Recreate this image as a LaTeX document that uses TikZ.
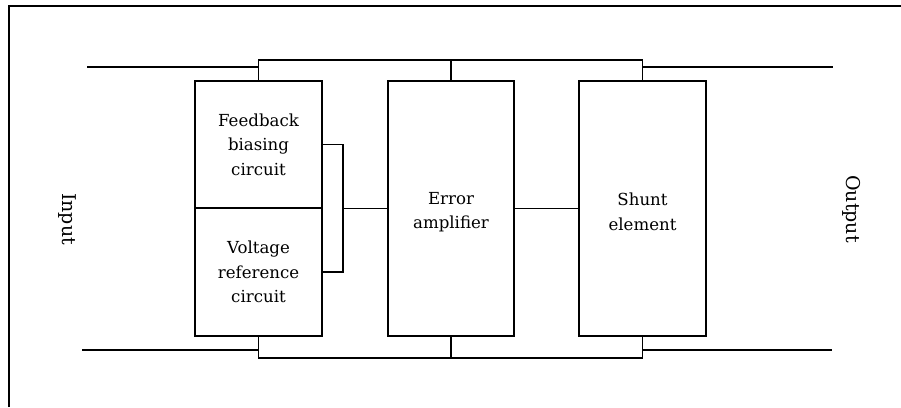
\documentclass[tikz,border=0pt]{standalone}
\usepackage{fontspec}
\setmainfont{DejaVu Serif}
\begin{document}
\begin{tikzpicture}[x=1pt,y=-1pt,
  blk/.style={draw,line width=1.1pt,inner sep=0pt,align=center,
    font=\fontsize{16.6}{24.5}\selectfont},
  lbl/.style={align=center,inner sep=0pt,yshift=-3.5pt,
    font=\fontsize{16.6}{24.5}\selectfont},
  wire/.style={line width=1.1pt},
  side/.style={font=\fontsize{19}{24}\selectfont,rotate=-90}]
\useasboundingbox (0,0) rectangle (901,407);
% partial frame
\draw[line width=1.1pt] (9,407) -- (9,6) -- (901,6);
% blocks
\node[blk,minimum width=127pt,minimum height=127pt] (fb) at (258.5,144.5) {Feedback\\biasing\\circuit};
\node[blk,minimum width=127pt,minimum height=128pt] (vr) at (258.5,272) {Voltage\\reference\\circuit};
\node[blk,minimum width=126pt,minimum height=255pt,label={[lbl]center:{Error\\amplifier}}] (ea) at (451,208.5) {};
\node[blk,minimum width=127pt,minimum height=255pt,label={[lbl]center:{Shunt\\element}}] (se) at (642.5,208.5) {};
% side labels
\node[side] (in) at (67,219) {Input};
\node[side] (out) at (852,209) {Output};
% coordinates
\coordinate (tbus) at (0,60);
\coordinate (bbus) at (0,358);
\coordinate (inT) at (87,67);
\coordinate (outT) at (833,67);
\coordinate (inB) at (82,350);
\coordinate (outB) at (832,350);
\coordinate (brk) at (343,208.5);
% top bus
\draw[wire] (fb.north) -- (fb.north |- tbus) -| (se.north);
\draw[wire] (ea.north) -- (ea.north |- tbus);
\draw[wire] (inT) -- (fb.north |- inT);
\draw[wire] (se.north |- outT) -- (outT);
% bottom bus
\draw[wire] (vr.south) -- (vr.south |- bbus) -| (se.south);
\draw[wire] (ea.south) -- (ea.south |- bbus);
\draw[wire] (inB) -- (vr.south |- inB);
\draw[wire] (se.south |- outB) -- (outB);
% bracket
\draw[wire] (fb.east) -| (brk) |- (vr.east);
\draw[wire] (brk) -- (ea.west);
\draw[wire] (ea.east) -- (se.west);
\end{tikzpicture}
\end{document}
